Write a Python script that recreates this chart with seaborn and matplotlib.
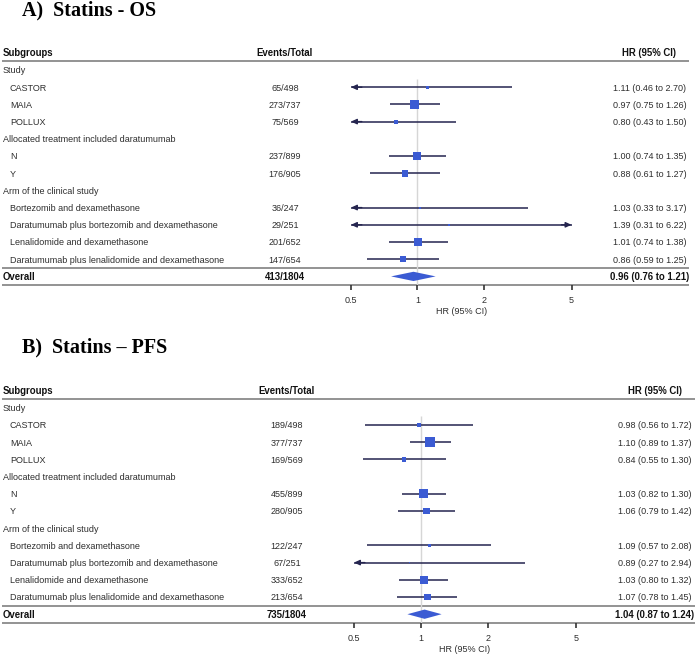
import numpy as np
import pandas as pd
import matplotlib
matplotlib.use("Agg")
import matplotlib.pyplot as plt
import seaborn as sns

# ---------------- data ----------------
subgroups = ["Study", "CASTOR", "MAIA", "POLLUX",
             "Allocated treatment included daratumumab", "N", "Y",
             "Arm of the clinical study",
             "Bortezomib and dexamethasone",
             "Daratumumab plus bortezomib and dexamethasone",
             "Lenalidomide and dexamethasone",
             "Daratumumab plus lenalidomide and dexamethasone",
             "Overall"]
group_header = [True, False, False, False, True, False, False, True,
                False, False, False, False, False]

os_events = ["", "65/498", "273/737", "75/569", "", "237/899", "176/905", "",
             "36/247", "29/251", "201/652", "147/654", "413/1804"]
os_hr = [np.nan, 1.11, 0.97, 0.80, np.nan, 1.00, 0.88, np.nan, 1.03, 1.39, 1.01, 0.86, 0.96]
os_lo = [np.nan, 0.46, 0.75, 0.43, np.nan, 0.74, 0.61, np.nan, 0.33, 0.31, 0.74, 0.59, 0.76]
os_hi = [np.nan, 2.70, 1.26, 1.50, np.nan, 1.35, 1.27, np.nan, 3.17, 6.22, 1.38, 1.25, 1.21]

pfs_events = ["", "189/498", "377/737", "169/569", "", "455/899", "280/905", "",
              "122/247", "67/251", "333/652", "213/654", "735/1804"]
pfs_hr = [np.nan, 0.98, 1.10, 0.84, np.nan, 1.03, 1.06, np.nan, 1.09, 0.89, 1.03, 1.07, 1.04]
pfs_lo = [np.nan, 0.56, 0.89, 0.55, np.nan, 0.82, 0.79, np.nan, 0.57, 0.27, 0.80, 0.78, 0.87]
pfs_hi = [np.nan, 1.72, 1.37, 1.30, np.nan, 1.30, 1.42, np.nan, 2.08, 2.94, 1.32, 1.45, 1.24]

x_ticks = [0.5, 1, 2, 5]
x_tick_labels = ["0.5", "1", "2", "5"]
panel_titles = ["A)  Statins - OS", "B)  Statins \u2013 PFS"]

# ---------------- style ----------------
sns.set_theme(style="white")
plt.rcParams["font.family"] = ["Liberation Sans", "DejaVu Sans"]

W, H = 700, 661
fig = plt.figure(figsize=(W / 100, H / 100), dpi=100)
fig.patch.set_facecolor("white")
bg = fig.add_axes([0, 0, 1, 1], zorder=0)
bg.set_xlim(0, W)
bg.set_ylim(H, 0)
bg.axis("off")

BLUE = "#3b5bd3"
NAVY = "#25254f"
TXT = "#2e2e2e"
LINEC = "#808080"
FS = 6.5      # normal text
FSB = 6.9     # bold text

panels = [
    dict(title_base=15.5, header=52.7, hline=60.7, row0=70.0, sp=17.2,
         ax0=351.0, ax1=571.5, ev_cx=285.0, hr_cx=649.5, line_end=689.0,
         events=os_events, hr=os_hr, lo=os_lo, hi=os_hi),
    dict(title_base=352.5, header=390.7, hline=398.7, row0=407.8, sp=17.2,
         ax0=354.0, ax1=576.0, ev_cx=287.0, hr_cx=655.0, line_end=695.0,
         events=pfs_events, hr=pfs_hr, lo=pfs_lo, hi=pfs_hi),
]

n = len(subgroups)
for p_i, P in enumerate(panels):
    row0, sp = P["row0"], P["sp"]
    ypix = lambda r: row0 + r * sp
    # title
    bg.text(22, P["title_base"], panel_titles[p_i], family=["Liberation Serif", "DejaVu Serif"],
            fontsize=14.5, fontweight="bold", color="black", va="baseline", ha="left")
    # header
    hb = P["header"] + 3.5
    bg.text(3, hb, "Subgroups", fontsize=FSB, fontweight="bold", color="#111111", va="baseline")
    bg.text(P["ev_cx"], hb, "Events/Total", fontsize=FSB, fontweight="bold", color="#111111",
            va="baseline", ha="center")
    bg.text(P["hr_cx"], hb, "HR (95% CI)", fontsize=FSB, fontweight="bold", color="#111111",
            va="baseline", ha="center")
    # horizontal rules
    for yy in [P["hline"], ypix(n - 1.5), ypix(n - 0.5)]:
        bg.plot([2, P["line_end"]], [yy, yy], color=LINEC, lw=1.2, solid_capstyle="butt")

    # row texts
    for i, name in enumerate(subgroups):
        yb = ypix(i) + 3.4
        overall = (i == n - 1)
        x = 3 if (group_header[i] or overall) else 10
        wt = "bold" if overall else "normal"
        fs = FSB if overall else FS
        col = "#111111" if overall else TXT
        bg.text(x, yb, name, fontsize=fs, fontweight=wt, color=col, va="baseline")
        if P["events"][i]:
            bg.text(P["ev_cx"], yb, P["events"][i], fontsize=fs, fontweight=wt, color=col,
                    va="baseline", ha="center")
        if not np.isnan(P["hr"][i]):
            s = f"{P['hr'][i]:.2f} ({P['lo'][i]:.2f} to {P['hi'][i]:.2f})"
            bg.text(P["hr_cx"], yb, s, fontsize=fs, fontweight=wt, color=col,
                    va="baseline", ha="center")

    # forest axes
    top_pix, bot_pix = P["hline"], ypix(n - 0.5)
    ax = fig.add_axes([P["ax0"] / W, 1 - bot_pix / H, (P["ax1"] - P["ax0"]) / W,
                       (bot_pix - top_pix) / H], zorder=2)
    ax.patch.set_alpha(0)
    ax.set_xscale("log")
    ax.set_xlim(0.5, 5)
    for sp_ in ax.spines.values():
        sp_.set_visible(False)
    ax.set_yticks([])
    ax.set_xticks(x_ticks)
    ax.set_xticklabels(x_tick_labels)
    ax.minorticks_off()
    ax.tick_params(axis="x", which="major", bottom=True, direction="out", length=3.8,
                   width=1.2, color="#333333", labelsize=FS, labelcolor=TXT, pad=4.0)
    ax.grid(False)

    # reference line
    ax.vlines(1, 0.5, n - 0.5, color="#d6d6d6", lw=1.0, zorder=1)

    df = pd.DataFrame({"row": np.arange(n), "hr": P["hr"], "lo": P["lo"], "hi": P["hi"]})
    sub = df.iloc[:-1].dropna().copy()
    se = (np.log(sub["hi"]) - np.log(sub["lo"])) / (2 * 1.96)
    sub["w"] = 1 / se ** 2
    # CI lines and arrows
    astyle = "-|>,head_length=0.28,head_width=0.13"
    for _, r in sub.iterrows():
        a, b = max(r["lo"], 0.5), min(r["hi"], 5)
        ax.hlines(r["row"], a, b, color=NAVY, lw=1.1, zorder=2)
        if r["lo"] < 0.5:
            ax.annotate("", xy=(0.5, r["row"]), xytext=(0.56, r["row"]),
                        arrowprops=dict(arrowstyle=astyle, color=NAVY, lw=1.0,
                                        shrinkA=0, shrinkB=0), zorder=3)
        if r["hi"] > 5:
            ax.annotate("", xy=(5, r["row"]), xytext=(4.5, r["row"]),
                        arrowprops=dict(arrowstyle=astyle, color=NAVY, lw=1.0,
                                        shrinkA=0, shrinkB=0), zorder=3)
    sns.scatterplot(data=sub, x="hr", y="row", size="w", sizes=(0, 46),
                    size_norm=(0, sub["w"].max()), marker="s", color=BLUE,
                    linewidth=0, legend=False, ax=ax, zorder=4)
    ax.set_xlabel("HR (95% CI)", fontsize=FS, color=TXT, labelpad=1.5)
    ax.set_ylabel("")
    # overall diamond
    o = df.iloc[-1]
    h = 0.27
    ax.fill([o["lo"], o["hr"], o["hi"], o["hr"]],
            [o["row"], o["row"] - h, o["row"], o["row"] + h],
            color=BLUE, lw=0, zorder=4)
    ax.set_xlim(0.5, 5)
    ax.set_ylim((bot_pix - row0) / sp, (top_pix - row0) / sp)

fig.savefig("out.png", dpi=100, facecolor="white")
